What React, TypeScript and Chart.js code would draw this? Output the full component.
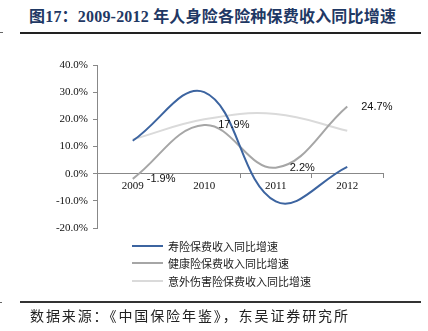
import React, { useEffect, useRef } from "react";
import { Chart, registerables } from "chart.js";

Chart.register(...registerables);

const categories = ["2009", "2010", "2011", "2012"];
const lifeGrowth = [12.1, 30.0, -10.2, 2.5];
const healthGrowth = [-1.9, 17.9, 2.2, 24.7];
const accidentGrowth = [12.6, 20.0, 22.0, 15.8];
const healthLabels = ["-1.9%", "17.9%", "2.2%", "24.7%"];
const seriesNames = ["寿险保费收入同比增速", "健康险保费收入同比增速", "意外伤害险保费收入同比增速"];
const seriesColors = ["#3c64a0", "#a6a6a6", "#dadada"];
const yTicks = [-20, -10, 0, 10, 20, 30, 40];

const labelPlugin = {
  id: "healthLabels",
  afterDatasetsDraw(chart: any) {
    const meta = chart.getDatasetMeta(1);
    const ctx = chart.ctx;
    ctx.save();
    ctx.font = "11px 'Liberation Sans', Arial, sans-serif";
    ctx.fillStyle = "#111";
    ctx.textAlign = "left";
    ctx.textBaseline = "middle";
    meta.data.forEach((pt: any, i: number) => {
      ctx.fillText(healthLabels[i], pt.x + 14, pt.y);
    });
    ctx.restore();
  },
};

export default function App() {
  const ref = useRef<HTMLCanvasElement | null>(null);
  useEffect(() => {
    if (!ref.current) return;
    const chart = new Chart(ref.current, {
      type: "line",
      data: {
        labels: categories,
        datasets: [
          { label: seriesNames[0], data: lifeGrowth, borderColor: seriesColors[0], borderWidth: 2, pointRadius: 0, tension: 0.4, fill: false },
          { label: seriesNames[1], data: healthGrowth, borderColor: seriesColors[1], borderWidth: 2, pointRadius: 0, tension: 0.4, fill: false },
          { label: seriesNames[2], data: accidentGrowth, borderColor: seriesColors[2], borderWidth: 2, pointRadius: 0, tension: 0.4, fill: false },
        ],
      },
      options: {
        responsive: false,
        animation: false,
        layout: { padding: { top: 65, bottom: 103, left: 0, right: 45 } },
        plugins: { legend: { display: false }, tooltip: { enabled: false } },
        scales: {
          x: {
            type: "category",
            position: { y: 0 } as any,
            offset: true,
            grid: { display: true, offset: true, drawOnChartArea: false, drawTicks: true, tickLength: 4, color: "#888" },
            border: { display: true, color: "#888", width: 1 },
            ticks: { font: { family: "'Liberation Serif', 'Times New Roman', serif", size: 11 }, color: "#111", padding: 2, maxRotation: 0 },
          },
          y: {
            min: yTicks[0],
            max: yTicks[yTicks.length - 1],
            afterBuildTicks: (scale: any) => {
              scale.ticks = yTicks.map((v) => ({ value: v }));
            },
            afterFit: (scale: any) => {
              scale.width = 97;
            },
            grid: { display: true, drawOnChartArea: false, drawTicks: true, tickLength: 4, color: "#888" },
            border: { display: true, color: "#888", width: 1 },
            ticks: {
              font: { family: "'Liberation Serif', 'Times New Roman', serif", size: 11 },
              color: "#111",
              padding: 5,
              callback: (v: any) => Number(v).toFixed(1) + "%",
            },
          },
        },
      },
      plugins: [labelPlugin],
    });
    return () => chart.destroy();
  }, []);

  const cjk = "'Noto Sans CJK SC', sans-serif";
  const legendY = [246, 263, 281];

  return (
    <div style={{ position: "absolute", left: 0, top: 0, width: 428, height: 331, background: "#fff", overflow: "hidden" }}>
      <div
        style={{
          position: "absolute",
          left: 29,
          top: 7,
          height: 20,
          lineHeight: "20px",
          whiteSpace: "nowrap",
          fontFamily: "'Liberation Serif', 'Noto Sans CJK SC', serif",
          fontWeight: "bold",
          fontSize: 16,
          letterSpacing: 0.2,
          color: "#1f3864",
        }}
      >
        图17：2009-2012 年人身险各险种保费收入同比增速
      </div>
      <div style={{ position: "absolute", left: 0, top: 32, width: 3, height: 1, background: "#666" }} />
      <div style={{ position: "absolute", left: 20, top: 32, width: 401, height: 2, background: "#222" }} />
      <canvas ref={ref} width={428} height={331} style={{ position: "absolute", left: 0, top: 0, width: 428, height: 331 }} />
      {seriesNames.map((name, i) => (
        <div key={name} style={{ position: "absolute", left: 132, top: legendY[i] - 8, height: 16, display: "flex", alignItems: "center", whiteSpace: "nowrap" }}>
          <div style={{ width: 31, height: 2, background: seriesColors[i] }} />
          <div style={{ marginLeft: 5, fontFamily: cjk, fontSize: 11, lineHeight: "16px", color: "#222" }}>{name}</div>
        </div>
      ))}
      <div style={{ position: "absolute", left: 0, top: 302, width: 2, height: 1, background: "#666" }} />
      <div style={{ position: "absolute", left: 20, top: 301, width: 401, height: 2, background: "#333" }} />
      <div
        style={{
          position: "absolute",
          left: 30,
          top: 306,
          height: 18,
          lineHeight: "18px",
          whiteSpace: "nowrap",
          fontFamily: cjk,
          fontSize: 14,
          letterSpacing: 1.9,
          color: "#222",
        }}
      >
        数据来源：《中国保险年鉴》，东吴证券研究所
      </div>
    </div>
  );
}
